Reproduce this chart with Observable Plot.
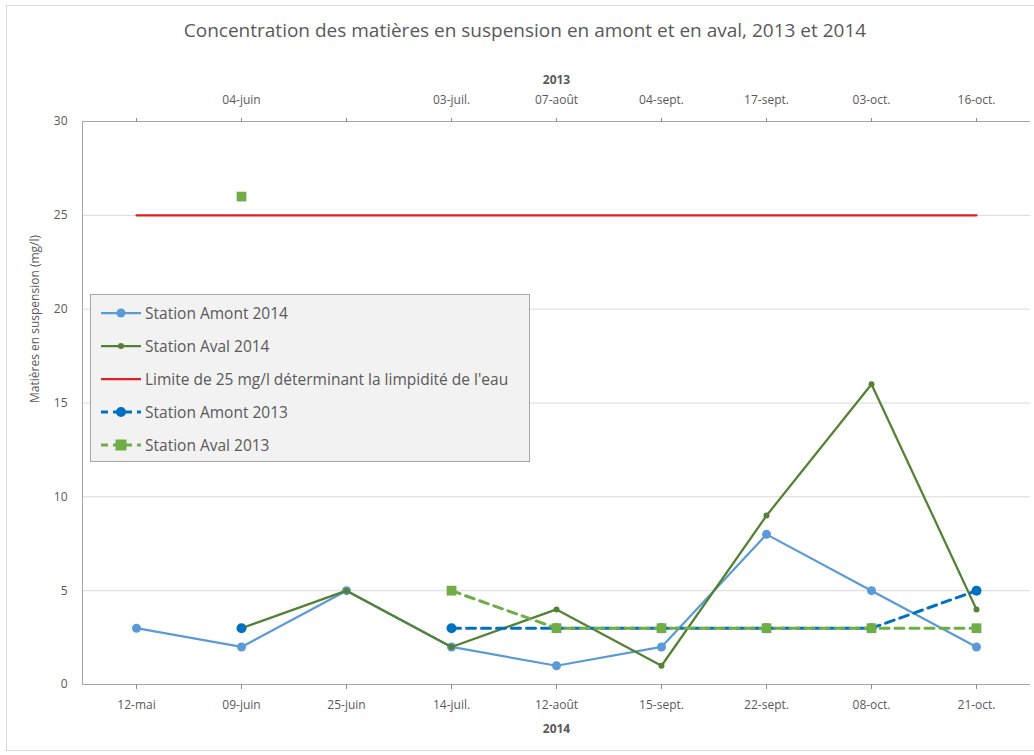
<!DOCTYPE html>
<html><head><meta charset="utf-8">
<script src="https://cdn.jsdelivr.net/npm/d3@7"></script>
<script src="https://cdn.jsdelivr.net/npm/@observablehq/plot@0.6"></script>
<style>
body{margin:0;background:#fff;font-family:"Open Sans",sans-serif;}
#wrap{position:relative;width:1034px;height:755px;overflow:hidden;background:#fff;}
#border{position:absolute;left:6px;top:5px;width:1040px;height:744px;border:1px solid #d9d9d9;}
#title{position:absolute;top:17px;left:0;width:1050px;text-align:center;font-size:19px;color:#595959;}
#chart{position:absolute;left:0;top:50px;}
#legend{position:absolute;left:90px;top:294px;width:440px;height:168px;background:#f2f2f2;border:1px solid #a6a6a6;box-sizing:border-box;}
.row{position:absolute;left:9px;height:20px;display:flex;align-items:center;font-size:15.5px;color:#595959;white-space:nowrap;}
.row svg{margin-right:3px;}
</style></head>
<body>
<div id="wrap">
  <div id="border"></div>
  <div id="title">Concentration des matières en suspension en amont et en aval, 2013 et 2014</div>
  <div id="chart"></div>
  <div id="legend"></div>
</div>
<script>
// ---- data ----
const dates2014 = ["12-mai","09-juin","25-juin","14-juil.","12-août","15-sept.","22-sept.","08-oct.","21-oct."];
const dates2013 = ["","04-juin","","03-juil.","07-août","04-sept.","17-sept.","03-oct.","16-oct."];
const amont2014 = [3,2,5,2,1,2,8,5,2];
const aval2014  = [null,3,5,2,4,1,9,16,4];
const limite    = [25,25,25,25,25,25,25,25,25];
const amont2013 = [null,3,null,3,3,3,3,3,5];
const aval2013  = [null,26,null,5,3,3,3,3,3];
const yTicks = [0,5,10,15,20,25,30];
const seriesNames = ["Station Amont 2014","Station Aval 2014","Limite de 25 mg/l déterminant la limpidité de l'eau","Station Amont 2013","Station Aval 2013"];
const xTitleTop = "2013";
const xTitleBottom = "2014";
const yTitle = "Matières en suspension (mg/l)";

// ---- styles ----
const styles = [
  {stroke:"#5b9bd5", width:2.25, dash:null, symbol:"circle", r:4.5},
  {stroke:"#548235", width:2.25, dash:null, symbol:"circle", r:3},
  {stroke:"#e02020", width:2.25, dash:null, symbol:null, r:0},
  {stroke:"#0070c0", width:3, dash:"9,6", symbol:"circle", r:5},
  {stroke:"#70ad47", width:3, dash:"9,6", symbol:"square", r:5.5}
];
const seriesValues = [amont2014, aval2014, limite, amont2013, aval2013];
const rows = vals => vals.map((v,i)=>({x:dates2014[i], y: v == null ? NaN : v}));

const seriesMarks = [];
seriesValues.forEach((vals, k) => {
  const s = styles[k];
  const data = rows(vals);
  seriesMarks.push(Plot.line(data, {x:"x", y:"y", stroke:s.stroke, strokeWidth:s.width, strokeDasharray:s.dash, strokeLinejoin:"round"}));
  if (s.symbol) seriesMarks.push(Plot.dot(data.filter(d=>!isNaN(d.y)), {x:"x", y:"y", r:s.r, symbol:s.symbol, fill:s.stroke, stroke:"none"}));
});

const chart = Plot.plot({
  width:1034, height:700,
  marginTop:71, marginBottom:66, marginLeft:82, marginRight:4,
  style:{fontFamily:'"Open Sans",sans-serif', fontSize:"12px", color:"#595959", background:"transparent", overflow:"visible"},
  x:{type:"point", domain:dates2014, padding:0.5},
  y:{domain:[0,30]},
  marks:[
    Plot.gridY(yTicks.slice(1,-1), {stroke:"#d9d9d9", strokeOpacity:1}),
    Plot.ruleY([0,30], {stroke:"#a6a6a6", strokeWidth:1}),
    Plot.frame({anchor:"left", stroke:"#a6a6a6"}),
    Plot.axisY(yTicks, {tickSize:0, tickPadding:15, label:null, fill:"#595959"}),
    Plot.axisX({anchor:"bottom", tickSize:5, tickPadding:11, label:null, stroke:"#8c8c8c", fill:"#595959"}),
    Plot.axisX({anchor:"top", tickSize:4, tickPadding:14, label:null, stroke:"#8c8c8c", fill:"#595959",
      tickFormat: d => dates2013[dates2014.indexOf(d)]}),
    Plot.text([xTitleTop], {text:d=>d, frameAnchor:"top", dy:-46, fontWeight:"bold", fontSize:12, fill:"#595959"}),
    Plot.text([xTitleBottom], {text:d=>d, frameAnchor:"bottom", dy:48, fontWeight:"bold", fontSize:12, fill:"#595959"}),
    Plot.text([yTitle], {text:d=>d, frameAnchor:"left", dx:-47, rotate:-90, fontSize:12, fill:"#595959"}),
    ...seriesMarks
  ]
});
document.getElementById("chart").appendChild(chart);

// ---- legend ----
const legend = document.getElementById("legend");
const rowTops = [8, 41, 74, 107, 140];
seriesNames.forEach((name, k) => {
  const s = styles[k];
  const row = document.createElement("div");
  row.className = "row";
  row.style.top = rowTops[k] + "px";
  let marker = "";
  if (s.symbol === "circle") marker = `<circle cx="21" cy="7" r="${s.r}" fill="${s.stroke}"/>`;
  if (s.symbol === "square") marker = `<rect x="${21-s.r}" y="${7-s.r}" width="${2*s.r}" height="${2*s.r}" fill="${s.stroke}"/>`;
  const dash = s.dash ? `stroke-dasharray="7,5"` : "";
  row.innerHTML = `<svg width="42" height="14"><line x1="1" y1="7" x2="41" y2="7" stroke="${s.stroke}" stroke-width="${s.width}" ${dash}/>${marker}</svg><span>${name}</span>`;
  legend.appendChild(row);
});
</script>
</body></html>
